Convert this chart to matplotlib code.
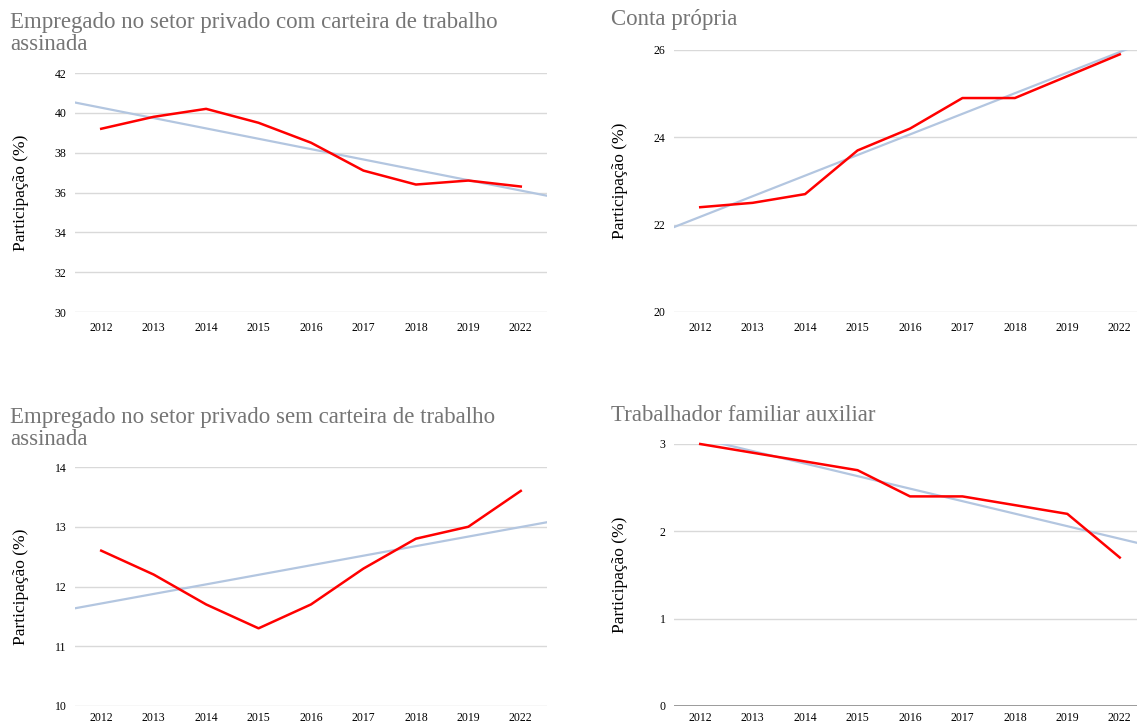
import numpy as np
import matplotlib
matplotlib.use('Agg')
import matplotlib.pyplot as plt

plt.rcParams['font.family'] = ['Liberation Serif', 'DejaVu Serif']

# Dados (participação %)
anos = ['2012', '2013', '2014', '2015', '2016', '2017', '2018', '2019', '2022']
com_carteira = [39.2, 39.8, 40.2, 39.5, 38.5, 37.1, 36.4, 36.6, 36.3]
conta_propria = [22.4, 22.5, 22.7, 23.7, 24.2, 24.9, 24.9, 25.4, 25.9]
sem_carteira = [12.6, 12.2, 11.7, 11.3, 11.7, 12.3, 12.8, 13.0, 13.6]
familiar = [3.0, 2.9, 2.8, 2.7, 2.4, 2.4, 2.3, 2.2, 1.7]

titulos = ['Empregado no setor privado com carteira de trabalho\nassinada',
           'Conta própria',
           'Empregado no setor privado sem carteira de trabalho\nassinada',
           'Trabalhador familiar auxiliar']
series = [com_carteira, conta_propria, sem_carteira, familiar]
yticks = [[30, 32, 34, 36, 38, 40, 42], [20, 22, 24, 26],
          [10, 11, 12, 13, 14], [0, 1, 2, 3]]

W, H = 1137, 722
fig = plt.figure(figsize=(W / 100, H / 100), dpi=100)

# posições em pixels: esquerda, topo (valor máx), base (valor mín)
caixas = [(75, 73, 312), (674, 50, 312), (75, 467, 706), (674, 444, 706)]
titulo_pos = [(10, 12), (611, 9), (10, 407), (611, 405)]
largura = 472

x = np.arange(len(anos))
for i in range(4):
    esq, topo, base = caixas[i]
    ax = fig.add_axes([esq / W, 1 - base / H, largura / W, (base - topo) / H])
    dados = series[i]

    # linha de tendência (regressão linear, como no gráfico original)
    a, b = np.polyfit(x, dados, 1)
    xt = np.array([-0.5, 8.5])
    ax.plot(xt, a * xt + b, color='#b3c6e0', lw=1.6, zorder=2)
    ax.plot(x, dados, color='#ff0000', lw=1.8, zorder=3, clip_on=False)

    ax.set_xlim(-0.5, 8.5)
    ax.set_ylim(yticks[i][0], yticks[i][-1])
    ax.set_yticks(yticks[i])
    ax.set_xticks(x)
    ax.set_xticklabels(anos)
    ax.tick_params(length=0, labelsize=8.5, colors='black')
    ax.tick_params(axis='x', pad=7 if i < 2 else 4)
    ax.tick_params(axis='y', pad=6)
    ax.grid(axis='y', color='#d9d9d9', lw=1)
    ax.set_axisbelow(True)
    for s in ax.spines.values():
        s.set_visible(False)
    if i == 3:
        ax.axhline(0, color='#8c8c8c', lw=1.2, zorder=1)

    tx, ty = titulo_pos[i]
    fig.text(tx / W, 1 - ty / H, titulos[i], fontsize=16.5, color='#757575',
             va='top', ha='left', linespacing=1.08)
    fig.text((esq - 54) / W, 1 - (topo + base) / 2 / H, 'Participação (%)',
             rotation=90, fontsize=12.5, va='center', ha='center')

fig.savefig('out.png', dpi=100)
